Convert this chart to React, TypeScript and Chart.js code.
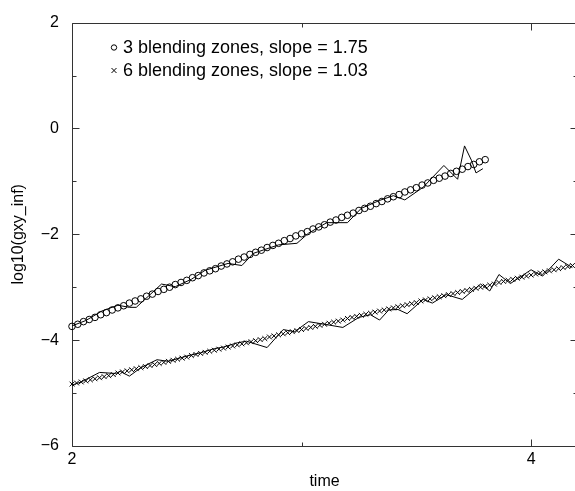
import React, { useEffect, useRef } from 'react';
import { Chart, registerables } from 'chart.js';

Chart.register(...registerables);

// ---- data ----
const circleTimes = [
  2.000, 2.025, 2.050, 2.075, 2.100, 2.125, 2.150, 2.175, 2.200, 2.225,
  2.250, 2.275, 2.300, 2.325, 2.350, 2.375, 2.400, 2.425, 2.450, 2.475,
  2.500, 2.525, 2.550, 2.575, 2.600, 2.625, 2.650, 2.675, 2.700, 2.725,
  2.750, 2.775, 2.800, 2.825, 2.850, 2.875, 2.900, 2.925, 2.950, 2.975,
  3.000, 3.025, 3.050, 3.075, 3.100, 3.125, 3.150, 3.175, 3.200, 3.225,
  3.250, 3.275, 3.300, 3.325, 3.350, 3.375, 3.400, 3.425, 3.450, 3.475,
  3.500, 3.525, 3.550, 3.575, 3.600, 3.625, 3.650, 3.675, 3.700, 3.725,
  3.750, 3.775, 3.800,
];
const circleValues = [
  -3.74, -3.70, -3.65, -3.61, -3.57, -3.52, -3.48, -3.43, -3.39, -3.35,
  -3.30, -3.26, -3.22, -3.17, -3.13, -3.08, -3.04, -3.00, -2.95, -2.91,
  -2.87, -2.82, -2.78, -2.73, -2.69, -2.65, -2.60, -2.56, -2.52, -2.47,
  -2.43, -2.38, -2.34, -2.30, -2.25, -2.21, -2.17, -2.12, -2.08, -2.03,
  -1.99, -1.95, -1.90, -1.86, -1.82, -1.77, -1.73, -1.68, -1.64, -1.60,
  -1.55, -1.51, -1.47, -1.42, -1.38, -1.33, -1.29, -1.25, -1.20, -1.16,
  -1.12, -1.07, -1.03, -0.98, -0.94, -0.90, -0.85, -0.81, -0.77, -0.72,
  -0.68, -0.63, -0.59,
];
const crossTimes = [
  2.00, 2.02, 2.04, 2.06, 2.08, 2.10, 2.12, 2.14, 2.16, 2.18,
  2.20, 2.22, 2.24, 2.26, 2.28, 2.30, 2.32, 2.34, 2.36, 2.38,
  2.40, 2.42, 2.44, 2.46, 2.48, 2.50, 2.52, 2.54, 2.56, 2.58,
  2.60, 2.62, 2.64, 2.66, 2.68, 2.70, 2.72, 2.74, 2.76, 2.78,
  2.80, 2.82, 2.84, 2.86, 2.88, 2.90, 2.92, 2.94, 2.96, 2.98,
  3.00, 3.02, 3.04, 3.06, 3.08, 3.10, 3.12, 3.14, 3.16, 3.18,
  3.20, 3.22, 3.24, 3.26, 3.28, 3.30, 3.32, 3.34, 3.36, 3.38,
  3.40, 3.42, 3.44, 3.46, 3.48, 3.50, 3.52, 3.54, 3.56, 3.58,
  3.60, 3.62, 3.64, 3.66, 3.68, 3.70, 3.72, 3.74, 3.76, 3.78,
  3.80, 3.82, 3.84, 3.86, 3.88, 3.90, 3.92, 3.94, 3.96, 3.98,
  4.00, 4.02, 4.04, 4.06, 4.08, 4.10, 4.12, 4.14, 4.16, 4.18,
];
const crossValues = [
  -4.83, -4.81, -4.79, -4.77, -4.75, -4.73, -4.71, -4.69, -4.67, -4.65,
  -4.62, -4.60, -4.58, -4.56, -4.54, -4.52, -4.50, -4.48, -4.46, -4.44,
  -4.42, -4.40, -4.38, -4.36, -4.34, -4.32, -4.29, -4.27, -4.25, -4.23,
  -4.21, -4.19, -4.17, -4.15, -4.13, -4.11, -4.09, -4.07, -4.05, -4.03,
  -4.01, -3.99, -3.97, -3.94, -3.92, -3.90, -3.88, -3.86, -3.84, -3.82,
  -3.80, -3.78, -3.76, -3.74, -3.72, -3.70, -3.68, -3.66, -3.64, -3.62,
  -3.59, -3.57, -3.55, -3.53, -3.51, -3.49, -3.47, -3.45, -3.43, -3.41,
  -3.39, -3.37, -3.35, -3.33, -3.31, -3.29, -3.26, -3.24, -3.22, -3.20,
  -3.18, -3.16, -3.14, -3.12, -3.10, -3.08, -3.06, -3.04, -3.02, -3.00,
  -2.98, -2.96, -2.94, -2.91, -2.89, -2.87, -2.85, -2.83, -2.81, -2.79,
  -2.77, -2.75, -2.73, -2.71, -2.69, -2.67, -2.65, -2.63, -2.61, -2.59,
];
const rawUpperTimes = [
  2.00, 2.06, 2.13, 2.20, 2.25, 2.28, 2.39, 2.45, 2.52, 2.58,
  2.68, 2.74, 2.79, 2.90, 2.98, 3.03, 3.11, 3.20, 3.26, 3.34,
  3.40, 3.45, 3.53, 3.62, 3.68, 3.71, 3.74, 3.76, 3.79,
];
const rawUpperValues = [
  -3.73, -3.63, -3.45, -3.34, -3.38, -3.38, -2.94, -2.99, -2.85, -2.68,
  -2.55, -2.59, -2.36, -2.20, -2.17, -1.98, -1.78, -1.78, -1.51, -1.36,
  -1.27, -1.35, -1.11, -0.70, -0.96, -0.33, -0.60, -0.84, -0.76,
];
const rawLowerTimes = [
  2.00, 2.04, 2.12, 2.19, 2.21, 2.25, 2.30, 2.37, 2.42, 2.50,
  2.56, 2.62, 2.66, 2.72, 2.76, 2.85, 2.92, 2.97, 3.03, 3.10,
  3.18, 3.25, 3.30, 3.34, 3.38, 3.42, 3.46, 3.53, 3.57, 3.63,
  3.70, 3.78, 3.82, 3.86, 3.91, 4.00, 4.05, 4.12, 4.18,
];
const rawLowerValues = [
  -4.85, -4.79, -4.61, -4.63, -4.59, -4.68, -4.52, -4.37, -4.40, -4.30,
  -4.24, -4.16, -4.13, -4.05, -4.02, -4.14, -3.80, -3.84, -3.65, -3.70,
  -3.76, -3.57, -3.52, -3.62, -3.43, -3.42, -3.50, -3.23, -3.30, -3.14,
  -3.23, -2.94, -3.07, -2.76, -2.93, -2.67, -2.79, -2.47, -2.63,
];

const legendLabels = [
  '3 blending zones, slope = 1.75',
  '6 blending zones, slope = 1.03',
];
const xMajorTicks = [2, 4];
const xMinorTicks = [3];
const yMajorTicks = [-6, -4, -2, 0, 2];
const yMinorTicks = [-5, -3, -1, 1];
const xTitle = 'time';
const yTitle = 'log10(gxy_inf)';

const FONT = "'Liberation Sans', Arial, Helvetica, sans-serif";

const zip = (t: number[], v: number[]) => t.map((x, i) => ({ x, y: v[i] }));

export default function App() {
  const ref = useRef<HTMLCanvasElement>(null);

  useEffect(() => {
    const canvas = ref.current;
    if (!canvas) return;

    const framePlugin = {
      id: 'frame',
      beforeDatasetsDraw(chart: any) {
        const { ctx, chartArea: a, scales } = chart;
        const xs = scales.x;
        const ys = scales.y;
        const L = Math.round(a.left) + 0.5;
        const R = Math.round(a.right) + 0.5;
        const T = Math.round(a.top) + 0.5;
        const B = Math.round(a.bottom) + 0.5;
        ctx.save();
        ctx.strokeStyle = '#333';
        ctx.lineWidth = 1;
        ctx.beginPath();
        ctx.rect(L, T, R - L, B - T);
        ctx.stroke();
        const yt = (vals: number[], len: number) => {
          for (const v of vals) {
            const y = Math.round(ys.getPixelForValue(v)) + 0.5;
            ctx.beginPath();
            ctx.moveTo(L, y); ctx.lineTo(L + len, y);
            ctx.moveTo(R, y); ctx.lineTo(R - len, y);
            ctx.stroke();
          }
        };
        const xt = (vals: number[], len: number) => {
          for (const v of vals) {
            const x = Math.round(xs.getPixelForValue(v)) + 0.5;
            ctx.beginPath();
            ctx.moveTo(x, B); ctx.lineTo(x, B - len);
            ctx.moveTo(x, T); ctx.lineTo(x, T + len);
            ctx.stroke();
          }
        };
        yt(yMajorTicks, 7);
        yt(yMinorTicks, 4);
        xt(xMajorTicks, 7);
        xt(xMinorTicks, 4);
        ctx.restore();
      },
      afterDraw(chart: any) {
        const { ctx } = chart;
        ctx.save();
        ctx.fillStyle = '#000';
        ctx.strokeStyle = '#000';
        ctx.lineWidth = 1;
        ctx.font = `18px ${FONT}`;
        ctx.textBaseline = 'middle';
        ctx.textAlign = 'left';
        const mx = 114;
        const rows = [47.5, 70.5];
        ctx.beginPath();
        ctx.arc(mx, rows[0], 2.7, 0, Math.PI * 2);
        ctx.stroke();
        const s = 2.5;
        ctx.beginPath();
        ctx.moveTo(mx - s, rows[1] - s); ctx.lineTo(mx + s, rows[1] + s);
        ctx.moveTo(mx - s, rows[1] + s); ctx.lineTo(mx + s, rows[1] - s);
        ctx.stroke();
        ctx.fillText(legendLabels[0], 123, rows[0] + 1);
        ctx.fillText(legendLabels[1], 123, rows[1] + 1);
        ctx.restore();
      },
    };

    const chart = new Chart(canvas, {
      type: 'scatter',
      data: {
        datasets: [
          {
            data: zip(rawUpperTimes, rawUpperValues),
            showLine: true,
            borderColor: '#000',
            borderWidth: 1,
            pointRadius: 0,
            tension: 0,
            clip: false,
          },
          {
            data: zip(rawLowerTimes, rawLowerValues),
            showLine: true,
            borderColor: '#000',
            borderWidth: 1,
            pointRadius: 0,
            tension: 0,
            clip: false,
          },
          {
            data: zip(circleTimes, circleValues),
            showLine: false,
            pointStyle: 'circle',
            pointRadius: 3.3,
            borderColor: '#000',
            backgroundColor: 'rgba(0,0,0,0)',
            pointBorderWidth: 1,
            clip: false,
          },
          {
            data: zip(crossTimes, crossValues),
            showLine: false,
            pointStyle: 'crossRot',
            pointRadius: 3.4,
            borderColor: '#000',
            backgroundColor: '#000',
            pointBorderWidth: 1,
            clip: false,
          },
        ],
      },
      options: {
        animation: false,
        responsive: false,
        devicePixelRatio: 1,
        layout: { padding: { top: 17, right: 2, bottom: 0, left: 0 } },
        plugins: {
          legend: { display: false },
          tooltip: { enabled: false },
        },
        scales: {
          x: {
            type: 'linear',
            position: 'bottom',
            min: 2,
            max: 4.2,
            grid: { display: false, drawTicks: false },
            border: { display: false },
            ticks: {
              stepSize: 1,
              includeBounds: false,
              autoSkip: false,
              maxRotation: 0,
              padding: 4,
              color: '#000',
              font: { family: FONT, size: 16 },
              callback: (v: any) => (xMajorTicks.includes(Number(v)) ? String(v) : ''),
            },
            title: {
              display: true,
              text: xTitle,
              color: '#000',
              font: { family: FONT, size: 16 },
              padding: { top: 2, bottom: 0 },
            },
            afterFit: (s: any) => { s.height = 45; },
          },
          y: {
            type: 'linear',
            min: -6,
            max: 2,
            grid: { display: false, drawTicks: false },
            border: { display: false },
            ticks: {
              stepSize: 2,
              padding: 13,
              color: '#000',
              font: { family: FONT, size: 16 },
              callback: (v: any) => String(v).replace('-', '\u2212'),
            },
            title: {
              display: true,
              text: yTitle,
              color: '#000',
              font: { family: FONT, size: 16 },
              padding: { top: 9, bottom: 0 },
            },
            afterFit: (s: any) => { s.width = 72; },
          },
        },
      },
      plugins: [framePlugin],
    } as any);

    return () => chart.destroy();
  }, []);

  return (
    <div
      style={{
        position: 'absolute',
        left: 0,
        top: 0,
        width: 575,
        height: 491,
        overflow: 'hidden',
        background: '#fff',
      }}
    >
      <canvas ref={ref} width={582} height={491} style={{ display: 'block', width: 582, height: 491 }} />
    </div>
  );
}
